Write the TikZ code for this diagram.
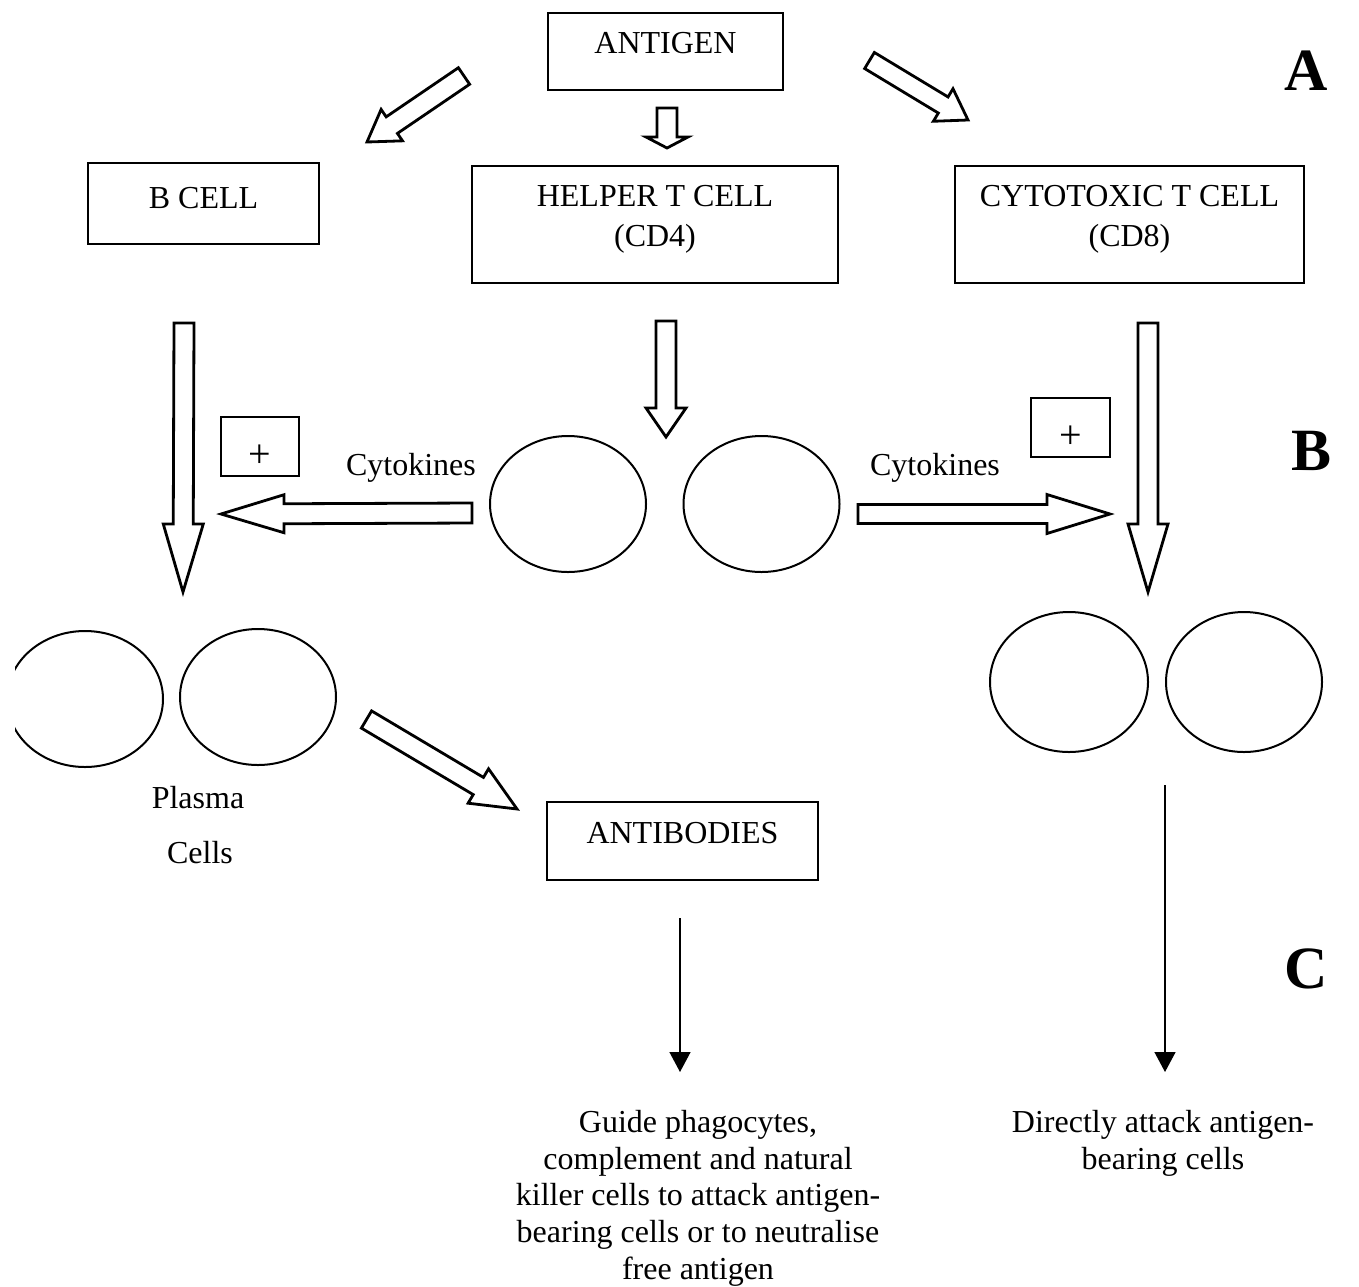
\documentclass[tikz,border=0pt]{standalone}
\usepackage{fontspec}
\setmainfont{Liberation Serif}
\usetikzlibrary{calc,shapes.geometric,arrows.meta}

% hollow block arrow: tail, tip, half shaft width, half head width, head length
\newcommand{\fatarrow}[5]{%
  \coordinate (fa-base) at ($(#2)!#5!(#1)$);
  \draw[fatarr] ($(#1)!#3!90:(#2)$) -- ($(fa-base)!#3!-90:(#1)$)
    -- ($(fa-base)!#4!-90:(#1)$) -- (#2) -- ($(fa-base)!#4!90:(#1)$)
    -- ($(fa-base)!#3!90:(#1)$) -- ($(#1)!#3!-90:(#2)$) -- cycle;
}

\begin{document}
\begin{tikzpicture}[x=0.5pt,y=-0.5pt,
		box/.style={draw,line width=1pt,inner sep=0pt},
		boxtext/.style={anchor=north,inner sep=0pt,align=center,font=\fontsize{16}{20}\selectfont},
		plusbox/.style={box,text height=25pt,text depth=4.5pt,font=\fontsize{20}{20}\selectfont},
		cell/.style={draw,ellipse,line width=1pt,inner sep=0pt,minimum width=78pt,minimum height=68pt},
		fatarr/.style={line width=1.4pt,line join=miter,fill=white},
		thinarr/.style={line width=0.7pt,-{Triangle[length=10pt,width=10.5pt]}},
		txt/.style={inner sep=0pt,align=center,font=\fontsize{16}{18.3}\selectfont},
		letter/.style={inner sep=0pt,anchor=base,font=\fontsize{30}{30}\selectfont\bfseries}
		]
		\useasboundingbox (0,0) rectangle (1359,1286);

		% boxes
		\node[box,minimum width=117.5pt,minimum height=38.5pt,
			label={[boxtext,yshift=-10pt]north:ANTIGEN}] (antigen) at (665.5,51.5) {};
		\node[box,minimum width=115.5pt,minimum height=40.5pt,
			label={[boxtext,yshift=-12.5pt]north:B CELL}] (bcell) at (203.5,203.5) {};
		\node[box,minimum width=183pt,minimum height=58.5pt,
			label={[boxtext,yshift=-10pt]north:HELPER T CELL\\(CD4)}] (helper) at (655,224.5) {};
		\node[box,minimum width=174.5pt,minimum height=58.5pt,
			label={[boxtext,yshift=-10pt]north:CYTOTOXIC T CELL\\(CD8)}] (cytotoxic) at (1129.5,224.5) {};
		\node[box,minimum width=135.5pt,minimum height=39pt,
			label={[boxtext,yshift=-10.5pt]north:ANTIBODIES}] (antibodies) at (682.5,841) {};
		\node[plusbox,minimum width=39pt] (plusl) at (260,446.5) {+};
		\node[plusbox,minimum width=39.5pt] (plusr) at (1070.5,427.5) {+};

		% cells
		\node[cell] (th1) at (568,504) {};
		\node[cell] (th2) at (761.5,504) {};
		\begin{scope}
			\clip (15,600) rectangle (400,800);
			\node[cell] (pl1) at (85,699) {};
		\end{scope}
		\node[cell] (pl2) at (258,697) {};
		\node[cell,minimum width=79pt,minimum height=70pt] (tc1) at (1069,682) {};
		\node[cell,minimum width=78pt,minimum height=70pt] (tc2) at (1244,682) {};

		% texts
		\node[txt,anchor=base] (cytol) at (411,475) {Cytokines};
		\node[txt,anchor=base] (cytor) at (935,475) {Cytokines};
		\node[txt,anchor=base] (plasma) at (198,808) {Plasma};
		\node[txt,anchor=base] (pcells) at (200,863) {Cells};
		\node[txt,anchor=north] (guide) at (698,1110) {Guide phagocytes,\\complement and natural\\killer cells to attack antigen-\\bearing cells or to neutralise\\free antigen};
		\node[txt,anchor=north] (attack) at (1163,1110) {Directly attack antigen-\\bearing cells};

		\node[letter] (la) at (1306,90) {A};
		\node[letter] (lb) at (1311,470) {B};
		\node[letter] (lc) at (1306,988) {C};

		% block arrows
		\coordinate (toB-tail) at (464,76);     \coordinate (toB-tip) at (367,142);
		\coordinate (toH-tail) at (667,108);    \coordinate (toH-tip) at (667,148);
		\coordinate (toC-tail) at (869.5,60.5); \coordinate (toC-tip) at (968,120);
		\coordinate (bdown-tail) at (184,323);  \coordinate (bdown-tip) at (183,592);
		\coordinate (hdown-tail) at (666,321);  \coordinate (hdown-tip) at (666,437);
		\coordinate (cdown-tail) at (1148,323); \coordinate (cdown-tip) at (1148,592);
		\coordinate (cyl-tail) at (472,513);    \coordinate (cyl-tip) at (221,514);
		\coordinate (cyr-tail) at (858,514);    \coordinate (cyr-tip) at (1110,514);
		\coordinate (pl-tail) at (366.5,719.5); \coordinate (pl-tip) at (517,809);

		\fatarrow{toB-tail}{toB-tip}{5pt}{9.5pt}{15pt}
		\fatarrow{toH-tail}{toH-tip}{5pt}{10.5pt}{5.5pt}
		\fatarrow{toC-tail}{toC-tip}{4.7pt}{9.5pt}{14.5pt}
		\fatarrow{bdown-tail}{bdown-tip}{5pt}{10pt}{34pt}
		\fatarrow{hdown-tail}{hdown-tip}{5pt}{10pt}{14.5pt}
		\fatarrow{cdown-tail}{cdown-tip}{5pt}{10pt}{34pt}
		\fatarrow{cyl-tail}{cyl-tip}{5pt}{9.5pt}{31.5pt}
		\fatarrow{cyr-tail}{cyr-tip}{4.75pt}{9.75pt}{31.5pt}
		\fatarrow{pl-tail}{pl-tip}{5pt}{10pt}{22.5pt}

		% thin arrows
		\coordinate (ab-tail) at (680,918);  \coordinate (ab-tip) at (680,1072);
		\coordinate (tc-tail) at (1165,785); \coordinate (tc-tip) at (1165,1072);
		\draw[thinarr] (ab-tail) -- (ab-tip);
		\draw[thinarr] (tc-tail) -- (tc-tip);
\end{tikzpicture}
\end{document}
